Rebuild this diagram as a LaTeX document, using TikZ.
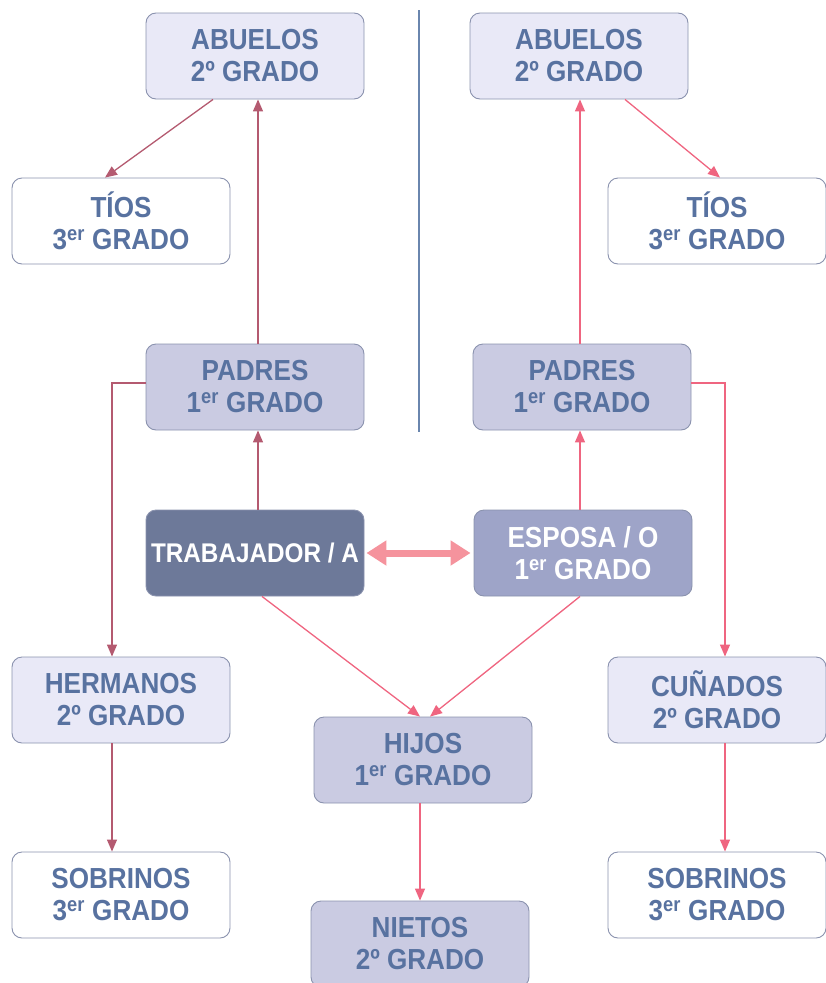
\documentclass[tikz,border=0pt]{standalone}
\usepackage{fontspec}
\setmainfont{Liberation Sans}[FakeStretch=0.9]
\usetikzlibrary{arrows.meta,calc}
\definecolor{txtc}{HTML}{5872A0}
\definecolor{bordc}{HTML}{8A92AE}
\definecolor{lightc}{HTML}{E9E9F7}
\definecolor{midc}{HTML}{CACBE2}
\definecolor{espc}{HTML}{9EA4C8}
\definecolor{trabc}{HTML}{6D7999}
\definecolor{leftc}{HTML}{B45A70}
\definecolor{rightc}{HTML}{EF6580}
\definecolor{sepc}{HTML}{6A86AE}
\definecolor{dblc}{HTML}{F5939D}
\tikzset{
  box/.style={draw=bordc, line width=0.9pt, rounded corners=10pt, minimum width=218pt,
    minimum height=86pt, align=center, font=\bfseries\fontsize{29}{32}\selectfont,
    text=txtc, inner sep=2pt},
  lightbox/.style={box, fill=lightc},
  whitebox/.style={box, fill=white},
  midbox/.style={box, fill=midc},
  espbox/.style={box, fill=espc, text=white},
  trabbox/.style={box, fill=trabc, text=white, font=\bfseries\fontsize{27}{32}\selectfont},
  lconn/.style={draw=leftc, line width=1.3pt, -{Triangle[length=12pt,width=10pt]}},
  rconn/.style={draw=rightc, line width=1.3pt, -{Triangle[length=12pt,width=10pt]}},
}
\newcommand{\er}{\textsuperscript{er}}
\begin{document}
\begin{tikzpicture}[x=1pt,y=-1pt]
\useasboundingbox (0,0) rectangle (826,983);
% separator
\draw[sepc, line width=2pt] (419,10) coordinate (sepa) -- (419,432) coordinate (sepb);
% nodes
\node[lightbox] (abL) at (255,56) {ABUELOS\\2º GRADO};
\node[lightbox] (abR) at (579,56) {ABUELOS\\2º GRADO};
\node[whitebox] (tiL) at (121,221) {TÍOS\\3\er{} GRADO};
\node[whitebox] (tiR) at (717,221) {TÍOS\\3\er{} GRADO};
\node[midbox] (paL) at (255,387) {PADRES\\1\er{} GRADO};
\node[midbox] (paR) at (582,387) {PADRES\\1\er{} GRADO};
\node[trabbox] (tr) at (255,553) {TRABAJADOR / A};
\node[espbox] (es) at (583,553) {ESPOSA / O\\1\er{} GRADO};
\node[lightbox] (heL) at (121,700) {HERMANOS\\2º GRADO};
\node[lightbox] (cuR) at (717,700) {CUÑADOS\\2º GRADO};
\node[midbox] (hi) at (423,760) {HIJOS\\1\er{} GRADO};
\node[midbox] (ni) at (420,944) {NIETOS\\2º GRADO};
\node[whitebox] (soL) at (121,895) {SOBRINOS\\3\er{} GRADO};
\node[whitebox] (soR) at (717,895) {SOBRINOS\\3\er{} GRADO};
% left connectors
\draw[lconn] ([xshift=-42pt]abL.south) -- ([xshift=-16pt]tiL.north);
\draw[lconn] ([xshift=3pt]paL.north) -- ([xshift=3pt]abL.south);
\draw[lconn] ([xshift=3pt]tr.north) -- ([xshift=3pt]paL.south);
\draw[lconn] ([yshift=4pt]paL.west) -| ([xshift=-9pt]heL.north);
\draw[lconn] ([xshift=-9pt]heL.south) -- ([xshift=-9pt]soL.north);
% center connectors
\draw[rconn] ([xshift=7pt]tr.south) -- ([xshift=-3pt]hi.north);
\draw[rconn] ([xshift=-3pt]es.south) -- ([xshift=7pt]hi.north);
\draw[rconn] ([xshift=-3pt]hi.south) -- (ni.north);
% right connectors
\draw[rconn] ([xshift=-3pt]es.north) -- ([xshift=-2pt]paR.south);
\draw[rconn] ([xshift=-2pt]paR.north) -- ([xshift=1pt]abR.south);
\draw[rconn] ([xshift=46pt]abR.south) -- ([xshift=3pt]tiR.north);
\draw[rconn] ([yshift=4pt]paR.east) -| ([xshift=8pt]cuR.north);
\draw[rconn] ([xshift=8pt]cuR.south) -- ([xshift=8pt]soR.north);
% spouse double arrow
\draw[dblc, line width=7pt, {Triangle[length=20pt,width=24pt]}-{Triangle[length=20pt,width=24pt]}]
  ([xshift=2pt]tr.east) -- ([xshift=-3pt]es.west);
\end{tikzpicture}
\end{document}
